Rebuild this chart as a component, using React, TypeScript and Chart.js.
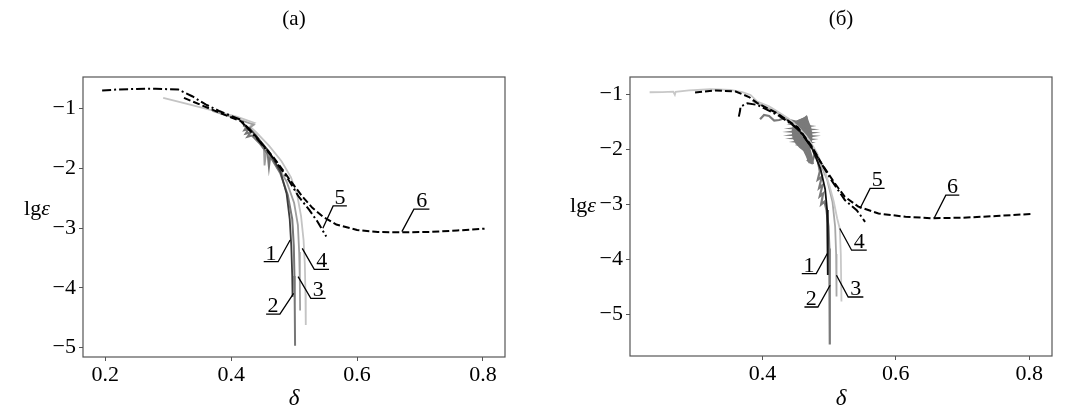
import React, { useEffect, useRef } from 'react';
import { Chart, registerables } from 'chart.js';

Chart.register(...registerables);

// ---------- axis ticks ----------
const X_TICKS_A = [0.2, 0.4, 0.6, 0.8];
const X_TICKS_B = [0.4, 0.6, 0.8];
const Y_TICKS = [-1, -2, -3, -4, -5];
const LABEL_TEXT = ['1', '2', '3', '4', '5', '6'];

// ---------- panel (a) ----------
const A5_X = [0.195, 0.22, 0.25, 0.28, 0.316, 0.338, 0.36, 0.382, 0.415, 0.426, 0.447, 0.469, 0.491, 0.507, 0.524, 0.537, 0.551];
const A5_Y = [-0.698, -0.68, -0.67, -0.668, -0.681, -0.793, -0.933, -1.045, -1.185, -1.32, -1.576, -1.856, -2.19, -2.47, -2.695, -2.89, -3.14];
const A6_X = [0.325, 0.35, 0.382, 0.415, 0.436, 0.469, 0.4965, 0.513, 0.529, 0.546, 0.567, 0.6, 0.633, 0.671, 0.715, 0.759, 0.8025];
const A6_Y = [-0.82, -0.93, -1.07, -1.21, -1.43, -1.84, -2.24, -2.47, -2.66, -2.81, -2.94, -3.03, -3.065, -3.07, -3.065, -3.04, -3.01];
const A4_X = [0.292, 0.33, 0.37, 0.41, 0.437, 0.434, 0.43, 0.44, 0.46, 0.48, 0.495, 0.505, 0.511, 0.515, 0.517, 0.518, 0.5185];
const A4_Y = [-0.82, -0.92, -1.03, -1.14, -1.24, -1.26, -1.3, -1.4, -1.62, -1.88, -2.15, -2.45, -2.8, -3.2, -3.6, -4.1, -4.62];
const A3_X = [0.37, 0.4, 0.436, 0.428, 0.44, 0.452, 0.453, 0.456, 0.47, 0.488, 0.5, 0.506, 0.508, 0.509, 0.5095];
const A3_Y = [-1.04, -1.14, -1.27, -1.33, -1.45, -1.66, -1.95, -1.7, -1.9, -2.22, -2.58, -2.95, -3.4, -3.85, -4.38];
const A2_X = [0.419, 0.424, 0.421, 0.428, 0.423, 0.431, 0.426, 0.433, 0.445, 0.458, 0.46, 0.462, 0.478, 0.49, 0.497, 0.4995, 0.5005, 0.501, 0.5015];
const A2_Y = [-1.28, -1.31, -1.36, -1.34, -1.42, -1.4, -1.47, -1.45, -1.58, -1.76, -1.98, -1.8, -2.08, -2.45, -2.85, -3.3, -3.8, -4.3, -4.97];
const A1_X = [0.42, 0.43, 0.44, 0.46, 0.478, 0.488, 0.493, 0.4955, 0.497, 0.4975];
const A1_Y = [-1.26, -1.34, -1.46, -1.72, -2.05, -2.42, -2.85, -3.3, -3.8, -4.15];
const A_LEAD_X = [
  [0.4937, 0.4746, 0.4517],
  [0.4992, 0.4774, 0.4555],
  [0.5063, 0.5265, 0.55],
  [0.5129, 0.532, 0.5554],
  [0.5456, 0.562, 0.5838],
  [0.6712, 0.6903, 0.7149],
];
const A_LEAD_Y = [
  [-3.198, -3.562, -3.562],
  [-4.093, -4.44, -4.44],
  [-3.813, -4.177, -4.177],
  [-3.338, -3.69, -3.69],
  [-3.002, -2.628, -2.628],
  [-3.058, -2.683, -2.683],
];

// ---------- panel (б) ----------
const B5_X = [0.3647, 0.3665, 0.3672, 0.3773, 0.3924, 0.4227, 0.453, 0.4732, 0.4883, 0.5034, 0.5236, 0.5413, 0.5539];
const B5_Y = [-1.406, -1.3, -1.224, -1.164, -1.194, -1.376, -1.618, -1.952, -2.255, -2.558, -2.921, -3.103, -3.315];
const B6_X = [0.2991, 0.33, 0.36, 0.38, 0.3924, 0.4227, 0.453, 0.4732, 0.4883, 0.5085, 0.5236, 0.5438, 0.574, 0.6144, 0.655, 0.7001, 0.7505, 0.806];
const B6_Y = [-0.97, -0.93, -0.95, -1.05, -1.16, -1.35, -1.6, -1.93, -2.25, -2.618, -2.86, -3.04, -3.164, -3.224, -3.25, -3.24, -3.21, -3.17];
const B4_X = [0.231, 0.25, 0.2663, 0.2688, 0.27, 0.29, 0.3218, 0.352, 0.37, 0.3823, 0.3924, 0.41, 0.4227, 0.44, 0.453, 0.465, 0.4732, 0.482, 0.4883, 0.495, 0.5009, 0.507, 0.512, 0.516, 0.5175, 0.5185];
const B4_Y = [-0.964, -0.96, -0.952, -1.01, -0.955, -0.93, -0.909, -0.921, -0.96, -1.012, -1.133, -1.22, -1.315, -1.45, -1.588, -1.75, -1.891, -2.07, -2.255, -2.45, -2.679, -2.95, -3.25, -3.44, -3.9, -4.76];
const B3_X = [0.385, 0.42, 0.45, 0.47, 0.485, 0.497, 0.505, 0.509, 0.5105, 0.511, 0.5112];
const B3_Y = [-1.12, -1.32, -1.58, -1.87, -2.2, -2.55, -2.95, -3.4, -3.9, -4.29, -4.67];
const B2_X = [0.3965, 0.4025, 0.41, 0.4177, 0.4252, 0.4328, 0.44, 0.452, 0.466, 0.468, 0.449, 0.469, 0.447, 0.47, 0.446, 0.471, 0.447, 0.472, 0.449, 0.471, 0.452, 0.47, 0.456, 0.469, 0.462, 0.47, 0.466, 0.472, 0.468, 0.474, 0.478, 0.476, 0.482, 0.486, 0.483, 0.489, 0.485, 0.49, 0.486, 0.491, 0.488, 0.493, 0.496, 0.499, 0.5003, 0.5008, 0.501, 0.5012];
const B2_Y = [-1.455, -1.376, -1.394, -1.479, -1.467, -1.436, -1.47, -1.5, -1.42, -1.52, -1.55, -1.58, -1.62, -1.64, -1.68, -1.7, -1.74, -1.76, -1.8, -1.82, -1.86, -1.88, -1.92, -1.95, -1.98, -2.02, -2.08, -2.12, -2.2, -2.25, -2.1, -2.0, -2.15, -2.4, -2.55, -2.5, -2.7, -2.65, -2.85, -2.8, -3.0, -2.95, -3.1, -3.4, -3.8, -4.4, -5.0, -5.54];
// outline of the dense noisy patch of curve 2 in panel (б)
const B2_PATCH_X = [0.455, 0.462, 0.466, 0.468, 0.472, 0.474, 0.473, 0.471, 0.474, 0.476, 0.47, 0.466, 0.462, 0.456, 0.45, 0.446, 0.445, 0.447, 0.45, 0.455];
const B2_PATCH_Y = [-1.47, -1.44, -1.4, -1.48, -1.6, -1.75, -1.9, -2.0, -2.12, -2.25, -2.24, -2.12, -2.02, -1.96, -1.88, -1.78, -1.66, -1.56, -1.5, -1.47];
const B1_X = [0.44, 0.46, 0.475, 0.487, 0.494, 0.497, 0.498, 0.498];
const B1_Y = [-1.5, -1.72, -2.0, -2.35, -2.72, -3.1, -3.6, -4.28];
const B_LEAD_X = [
  [0.4973, 0.4807, 0.459],
  [0.5015, 0.4832, 0.463],
  [0.511, 0.5286, 0.5513],
  [0.516, 0.5337, 0.5564],
  [0.5463, 0.5614, 0.5831],
  [0.6573, 0.6749, 0.6951],
];
const B_LEAD_Y = [
  [-3.89, -4.255, -4.255],
  [-4.467, -4.861, -4.861],
  [-4.285, -4.679, -4.679],
  [-3.436, -3.83, -3.83],
  [-3.073, -2.709, -2.709],
  [-3.25, -2.83, -2.83],
];

const SERIF = "'Liberation Serif', 'DejaVu Serif', serif";
const DASH = [7, 3];
const DASHDOT = [9, 3, 2, 3];
const FONT_SIZE = 22;

type Curve = { x: number[]; y: number[]; color: string; width: number; dash: number[]; fill?: boolean };
type PanelCfg = {
  title: string;
  width: number;
  area: { left: number; right: number; top: number; bottom: number };
  xMin: number; xMax: number; yMin: number; yMax: number;
  xTicks: number[];
  yLabel: { x: number; y: number };
  curves: Curve[];
  leadX: number[][];
  leadY: number[][];
};

const H = 414;

const PANEL_A: PanelCfg = {
  title: '(a)',
  width: 535,
  area: { left: 83, right: 505, top: 77, bottom: 357 },
  xMin: 0.1646, xMax: 0.835, yMin: -5.157, yMax: -0.471,
  xTicks: X_TICKS_A,
  yLabel: { x: 37, y: 209 },
  curves: [
    { x: A5_X, y: A5_Y, color: '#000000', width: 2, dash: DASHDOT },
    { x: A6_X, y: A6_Y, color: '#000000', width: 2, dash: DASH },
    { x: A1_X, y: A1_Y, color: '#3c3c3c', width: 1.8, dash: [] },
    { x: A2_X, y: A2_Y, color: '#777777', width: 2, dash: [] },
    { x: A3_X, y: A3_Y, color: '#9e9e9e', width: 1.8, dash: [] },
    { x: A4_X, y: A4_Y, color: '#c4c4c4', width: 1.8, dash: [] },
  ],
  leadX: A_LEAD_X,
  leadY: A_LEAD_Y,
};

const PANEL_B: PanelCfg = {
  title: '(б)',
  width: 534,
  area: { left: 95, right: 517, top: 77, bottom: 356 },
  xMin: 0.2016, xMax: 0.834, yMin: -5.75, yMax: -0.687,
  xTicks: X_TICKS_B,
  yLabel: { x: 48, y: 206 },
  curves: [
    { x: B5_X, y: B5_Y, color: '#000000', width: 2, dash: DASHDOT },
    { x: B6_X, y: B6_Y, color: '#000000', width: 2, dash: DASH },
    { x: B1_X, y: B1_Y, color: '#111111', width: 1.8, dash: [] },
    { x: B4_X, y: B4_Y, color: '#c8c8c8', width: 1.8, dash: [] },
    { x: B2_X, y: B2_Y, color: '#7a7a7a', width: 2.2, dash: [] },
    { x: B2_PATCH_X, y: B2_PATCH_Y, color: '#7a7a7a', width: 1.5, dash: [], fill: true },
    { x: B3_X, y: B3_Y, color: '#a8a8a8', width: 1.8, dash: [] },
  ],
  leadX: B_LEAD_X,
  leadY: B_LEAD_Y,
};

function mk(xs: number[], ys: number[], color: string, width: number, dash: number[], fill = false) {
  return {
    data: xs.map((x, i) => ({ x, y: ys[i] })),
    borderColor: color,
    backgroundColor: color,
    borderWidth: width,
    borderDash: dash,
    showLine: true,
    pointRadius: 0,
    pointHoverRadius: 0,
    fill: fill ? 'shape' : false,
    tension: 0,
  };
}

function overlay(p: PanelCfg) {
  return {
    id: 'overlay',
    afterDraw(chart: any) {
      const { ctx, chartArea } = chart;
      const xs = chart.scales.x;
      const ys = chart.scales.y;
      ctx.save();
      // frame
      ctx.strokeStyle = '#555555';
      ctx.lineWidth = 1.2;
      ctx.setLineDash([]);
      ctx.strokeRect(chartArea.left, chartArea.top, chartArea.right - chartArea.left, chartArea.bottom - chartArea.top);
      // curve labels
      ctx.fillStyle = '#000';
      ctx.font = `${FONT_SIZE}px ${SERIF}`;
      ctx.textAlign = 'center';
      ctx.textBaseline = 'alphabetic';
      p.leadX.forEach((lx, i) => {
        const ly = p.leadY[i];
        const cx = (xs.getPixelForValue(lx[1]) + xs.getPixelForValue(lx[2])) / 2;
        const cy = ys.getPixelForValue(ly[2]) - 2;
        ctx.fillText(LABEL_TEXT[i], cx, cy);
      });
      // title
      const mid = (chartArea.left + chartArea.right) / 2;
      ctx.textBaseline = 'middle';
      ctx.font = `21px ${SERIF}`;
      ctx.fillText(p.title, mid, 19);
      // x label
      ctx.font = `italic 23px ${SERIF}`;
      ctx.fillText('δ', mid, 399);
      // y label
      ctx.font = `${FONT_SIZE}px ${SERIF}`;
      const lgW = ctx.measureText('lg').width;
      ctx.font = `italic ${FONT_SIZE}px ${SERIF}`;
      const eW = ctx.measureText('ε').width;
      const start = p.yLabel.x - (lgW + eW) / 2;
      ctx.textAlign = 'left';
      ctx.font = `${FONT_SIZE}px ${SERIF}`;
      ctx.fillText('lg', start, p.yLabel.y);
      ctx.font = `italic ${FONT_SIZE}px ${SERIF}`;
      ctx.fillText('ε', start + lgW, p.yLabel.y);
      ctx.restore();
    },
  };
}

function buildConfig(p: PanelCfg): any {
  const datasets: any[] = [];
  p.leadX.forEach((lx, i) => datasets.push(mk(lx, p.leadY[i], '#000000', 1.3, [])));
  p.curves.forEach((c) => datasets.push(mk(c.x, c.y, c.color, c.width, c.dash, !!c.fill)));
  const tickFont = { family: SERIF, size: FONT_SIZE };
  const grid = { display: true, drawOnChartArea: false, drawTicks: true, tickLength: 4, color: '#555555', lineWidth: 1 };
  return {
    type: 'scatter',
    data: { datasets },
    options: {
      responsive: false,
      animation: false,
      devicePixelRatio: 1,
      events: [],
      layout: { padding: { left: 0, top: p.area.top, right: p.width - p.area.right, bottom: 0 } },
      plugins: { legend: { display: false }, tooltip: { enabled: false }, title: { display: false }, filler: { propagate: false } },
      scales: {
        x: {
          type: 'linear',
          min: p.xMin,
          max: p.xMax,
          afterFit: (s: any) => { s.height = H - p.area.bottom; },
          afterBuildTicks: (s: any) => { s.ticks = p.xTicks.map((v) => ({ value: v })); },
          ticks: {
            callback: (v: any) => Number(v).toFixed(1),
            font: tickFont,
            color: '#000',
            padding: 1,
            maxRotation: 0,
            autoSkip: false,
          },
          grid,
          border: { display: false },
        },
        y: {
          type: 'linear',
          min: p.yMin,
          max: p.yMax,
          afterFit: (s: any) => { s.width = p.area.left; },
          afterBuildTicks: (s: any) => { s.ticks = Y_TICKS.map((v) => ({ value: v })); },
          ticks: {
            callback: (v: any) => (v < 0 ? '\u2212' + Math.abs(v) : String(v)),
            font: tickFont,
            color: '#000',
            padding: 3,
            autoSkip: false,
          },
          grid,
          border: { display: false },
        },
      },
    },
    plugins: [overlay(p)],
  };
}

function Panel({ cfg, left }: { cfg: PanelCfg; left: number }) {
  const ref = useRef<HTMLCanvasElement>(null);
  useEffect(() => {
    if (!ref.current) return;
    const chart = new Chart(ref.current, buildConfig(cfg));
    return () => chart.destroy();
  }, [cfg]);
  return (
    <canvas
      ref={ref}
      width={cfg.width}
      height={H}
      style={{ position: 'absolute', left, top: 0, width: cfg.width, height: H }}
    />
  );
}

export default function App() {
  return (
    <div style={{ position: 'fixed', left: 0, top: 0, width: 1069, height: H, background: '#ffffff', overflow: 'hidden' }}>
      <Panel cfg={PANEL_A} left={0} />
      <Panel cfg={PANEL_B} left={535} />
    </div>
  );
}
